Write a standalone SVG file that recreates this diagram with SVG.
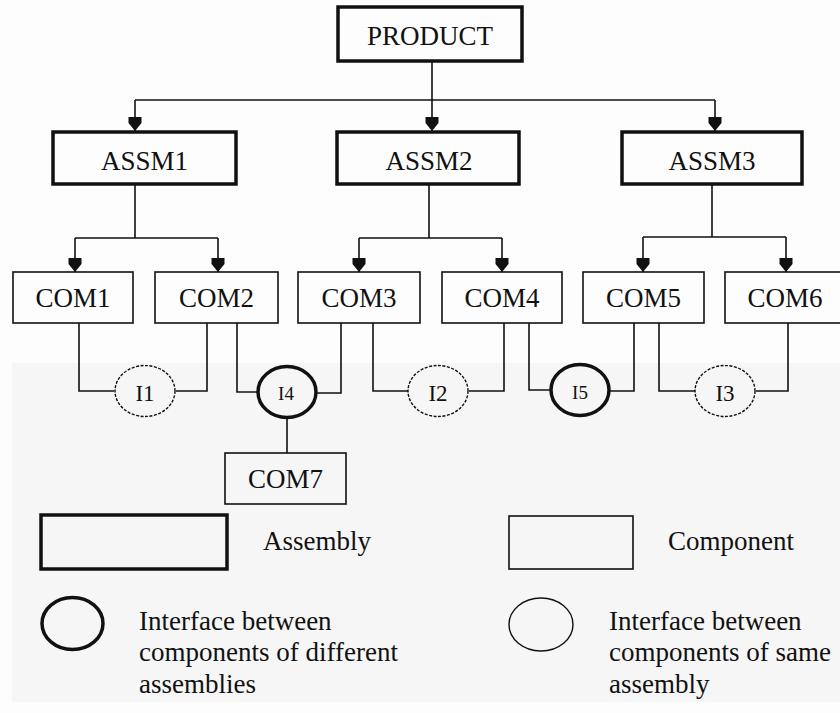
<svg xmlns="http://www.w3.org/2000/svg" width="840" height="713" viewBox="0 0 840 713">
  <defs>
    <marker id="arrow" markerUnits="userSpaceOnUse" viewBox="0 0 14 14" refX="14" refY="7" markerWidth="14" markerHeight="14" orient="auto">
      <path d="M0,0.5 L6,0.5 L14,7 L6,13.5 L0,13.5 z" fill="#111"/>
    </marker>
    <style>
      .assm { fill: none; stroke: #111; stroke-width: 3.5; }
      .com { fill: none; stroke: #111; stroke-width: 1.6; }
      .ifd { fill: none; stroke: #111; stroke-width: 3.5; }
      .ifs { fill: none; stroke: #111; stroke-width: 1.4; stroke-dasharray: 3 1.5; }
      .ifl { fill: none; stroke: #111; stroke-width: 1.4; }
      .wire { fill: none; stroke: #111; stroke-width: 1.6; }
      .lbl { font-family: "Liberation Serif", "Times New Roman", serif; font-size: 27px; fill: #111; text-anchor: middle; }
      .ilbl { font-family: "Liberation Serif", "Times New Roman", serif; font-size: 23px; fill: #111; text-anchor: middle; }
      .ilbl-s { font-family: "Liberation Serif", "Times New Roman", serif; font-size: 19px; fill: #111; text-anchor: middle; }
      .key { font-family: "Liberation Serif", "Times New Roman", serif; font-size: 27px; fill: #111; }
    </style>
  </defs>

  <!-- page background -->
  <rect x="0" y="0" width="840" height="713" fill="#fdfdfd"/>
  <rect x="12" y="363" width="828" height="339" fill="#f6f6f6"/>

  <!-- connectors -->
  <g id="connectors">
    <!-- product to assemblies -->
    <path class="wire" d="M432,61 V100"/>
    <path class="wire" d="M135,100 H715"/>
    <path class="wire" d="M135,100 V131" marker-end="url(#arrow)"/>
    <path class="wire" d="M432,100 V131" marker-end="url(#arrow)"/>
    <path class="wire" d="M715,100 V131" marker-end="url(#arrow)"/>
    <!-- assemblies to components -->
    <path class="wire" d="M135,184 V238 M75,238 H218"/>
    <path class="wire" d="M75,238 V272" marker-end="url(#arrow)"/>
    <path class="wire" d="M218,238 V272" marker-end="url(#arrow)"/>
    <path class="wire" d="M429,184 V238 M359,238 H502"/>
    <path class="wire" d="M359,238 V272" marker-end="url(#arrow)"/>
    <path class="wire" d="M502,238 V272" marker-end="url(#arrow)"/>
    <path class="wire" d="M712,184 V237 M643,237 H786"/>
    <path class="wire" d="M643,237 V272" marker-end="url(#arrow)"/>
    <path class="wire" d="M786,237 V272" marker-end="url(#arrow)"/>
    <!-- components to interfaces -->
    <path class="wire" d="M79,323 V391 H114"/>
    <path class="wire" d="M207,323 V391 H176"/>
    <path class="wire" d="M237,323 V392 H258"/>
    <path class="wire" d="M341,323 V393 H317"/>
    <path class="wire" d="M287,418 V453"/>
    <path class="wire" d="M373,323 V391 H408"/>
    <path class="wire" d="M504,323 V391 H469"/>
    <path class="wire" d="M529,323 V390 H551"/>
    <path class="wire" d="M634,323 V391 H610"/>
    <path class="wire" d="M659,323 V391 H695"/>
    <path class="wire" d="M788,323 V391 H756"/>
  </g>

  <!-- product -->
  <g id="product">
    <rect class="assm" x="338" y="7" width="184" height="54"/>
    <text class="lbl" x="430" y="45">PRODUCT</text>
  </g>

  <!-- assemblies -->
  <g id="assm1">
    <rect class="assm" x="53" y="132" width="183" height="52"/>
    <text class="lbl" x="144.5" y="170">ASSM1</text>
  </g>
  <g id="assm2">
    <rect class="assm" x="337" y="132" width="182" height="52"/>
    <text class="lbl" x="429" y="170">ASSM2</text>
  </g>
  <g id="assm3">
    <rect class="assm" x="622" y="132" width="180" height="52"/>
    <text class="lbl" x="712" y="170">ASSM3</text>
  </g>

  <!-- components -->
  <g id="com1">
    <rect class="com" x="13" y="272" width="120" height="51"/>
    <text class="lbl" x="73" y="307">COM1</text>
  </g>
  <g id="com2">
    <rect class="com" x="155" y="272" width="123" height="51"/>
    <text class="lbl" x="216.5" y="307">COM2</text>
  </g>
  <g id="com3">
    <rect class="com" x="298" y="272" width="122" height="51"/>
    <text class="lbl" x="359" y="307">COM3</text>
  </g>
  <g id="com4">
    <rect class="com" x="442" y="272" width="120" height="51"/>
    <text class="lbl" x="502" y="307">COM4</text>
  </g>
  <g id="com5">
    <rect class="com" x="583" y="272" width="121" height="51"/>
    <text class="lbl" x="643.5" y="307">COM5</text>
  </g>
  <g id="com6">
    <rect class="com" x="725" y="272" width="121" height="51"/>
    <text class="lbl" x="785" y="307">COM6</text>
  </g>
  <g id="com7">
    <rect class="com" x="225" y="453" width="121" height="51"/>
    <text class="lbl" x="285.5" y="488">COM7</text>
  </g>

  <!-- interfaces -->
  <g id="i1">
    <ellipse class="ifs" cx="145" cy="391" rx="30" ry="25.5"/>
    <text class="ilbl" x="145" y="401">I1</text>
  </g>
  <g id="i4">
    <ellipse class="ifd" cx="287" cy="392" rx="29" ry="25.5"/>
    <text class="ilbl-s" x="286" y="400">I4</text>
  </g>
  <g id="i2">
    <ellipse class="ifs" cx="438" cy="391" rx="30" ry="25.5"/>
    <text class="ilbl" x="438" y="401">I2</text>
  </g>
  <g id="i5">
    <ellipse class="ifd" cx="580" cy="390" rx="29" ry="25.5"/>
    <text class="ilbl-s" x="580" y="399">I5</text>
  </g>
  <g id="i3">
    <ellipse class="ifs" cx="725" cy="391" rx="30" ry="25.5"/>
    <text class="ilbl" x="725" y="401">I3</text>
  </g>

  <!-- key -->
  <g id="key-assembly">
    <rect class="assm" x="41" y="515" width="186" height="54"/>
    <text class="key" x="263" y="550">Assembly</text>
  </g>
  <g id="key-component">
    <rect class="com" x="509" y="516" width="124" height="53"/>
    <text class="key" x="668" y="550">Component</text>
  </g>
  <g id="key-interface-different">
    <ellipse class="ifd" cx="72.5" cy="623.5" rx="30.5" ry="26"/>
    <text class="key" x="139" y="630">Interface between</text>
    <text class="key" x="139" y="661">components of different</text>
    <text class="key" x="139" y="693">assemblies</text>
  </g>
  <g id="key-interface-same">
    <ellipse class="ifl" cx="541" cy="624.5" rx="32" ry="26.5"/>
    <text class="key" x="609" y="630">Interface between</text>
    <text class="key" x="609" y="661">components of same</text>
    <text class="key" x="609" y="693">assembly</text>
  </g>
</svg>
